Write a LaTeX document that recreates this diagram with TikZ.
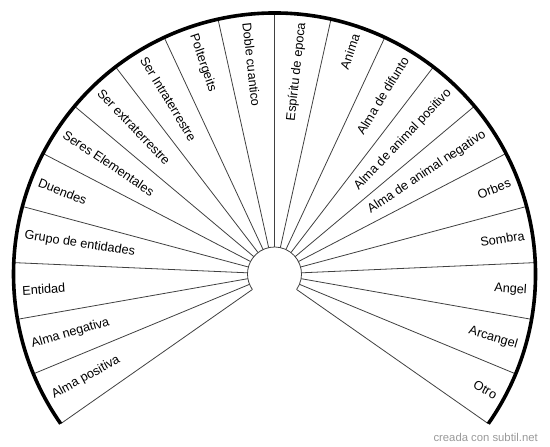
\documentclass[tikz,border=0pt]{standalone}
\usepackage{fontspec}
\setmainfont{Liberation Sans}
\begin{document}
\begin{tikzpicture}[x=1pt,y=1pt,line join=round,
  spoke/.style={draw=black!75,line width=0.8pt},
  rim/.style={draw=black,line width=3.6pt},
  lbl/.style={font=\fontsize{12.7}{14}\selectfont,inner sep=0pt},
  wmark/.style={font=\fontsize{11.3}{13}\selectfont,text=black!40,inner sep=0pt}]
\useasboundingbox (0,0) rectangle (550,447);
\coordinate (O) at (274.5,173);
\def\R{261}
\def\r{27}
% inner arc
\draw[spoke] ([shift={(-35:\r)}]O) arc[start angle=-35,end angle=215,radius=\r];
% spokes
\foreach \i in {0,...,20}{
  \pgfmathsetmacro\a{-35+12.5*\i}
  \coordinate (s\i) at ([shift={(\a:\r)}]O);
  \coordinate (e\i) at ([shift={(\a:\R)}]O);
  \draw[spoke] (s\i) -- (e\i);
}
% outer rim
\draw[rim] (e0) arc[start angle=-35,end angle=215,radius=\R];
% labels
\foreach \i/\t in {0/Otro,1/Arcangel,2/Angel,3/Sombra,4/Orbes,
  5/Alma de animal negativo,6/Alma de animal positivo,7/Alma de difunto,
  8/Anima,9/Espíritu de epoca,10/Doble cuantico,11/Poltergeits,
  12/Ser Intraterrestre,13/Ser extraterrestre,14/Seres Elementales,
  15/Duendes,16/Grupo de entidades,17/Entidad,18/Alma negativa,19/Alma positiva}{
  \pgfmathsetmacro\a{-35+12.5*(\i+0.5)}
  \ifnum\i<10
    \node[lbl,anchor=east,rotate=\a] (l\i) at ([shift={(\a:\R-8)}]O) {\t};
  \else
    \pgfmathsetmacro\b{\a+180}
    \node[lbl,anchor=west,rotate=\b] (l\i) at ([shift={(\a:\R-8)}]O) {\t};
  \fi
}
\node[wmark,anchor=east] (wm) at (538,10) {creada con subtil.net};
\end{tikzpicture}
\end{document}
